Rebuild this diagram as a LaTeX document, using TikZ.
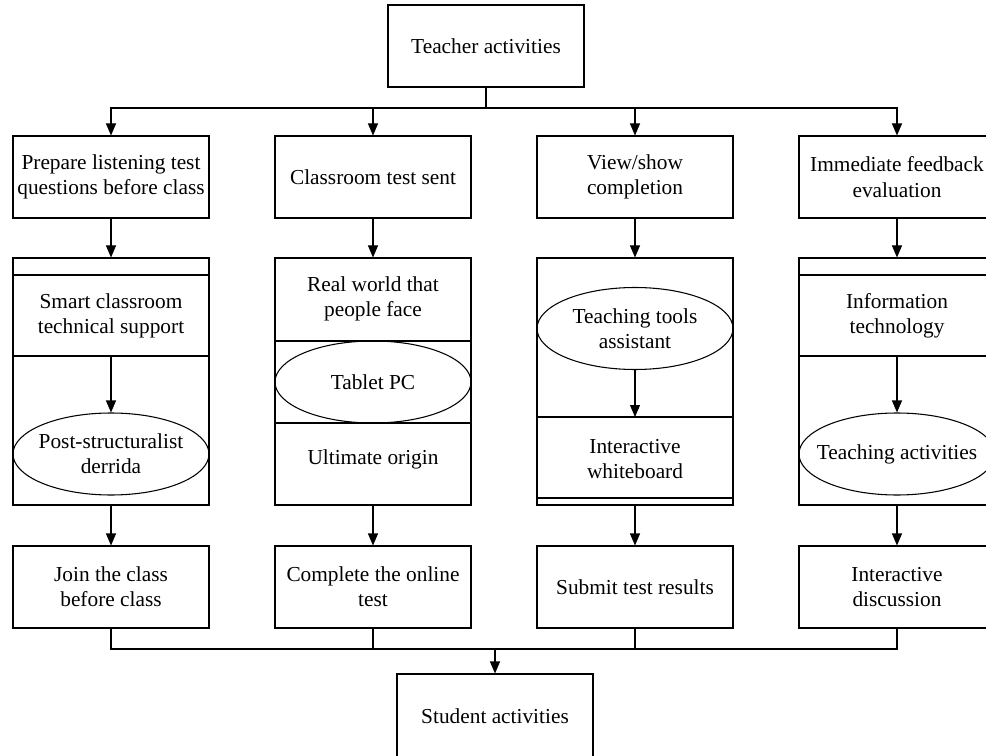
\documentclass[tikz,border=0pt]{standalone}
\usepackage{fontspec}
\setmainfont{Liberation Serif}
\usetikzlibrary{arrows.meta,shapes.geometric}
\tikzset{
  box/.style={draw, rectangle, minimum width=147pt, minimum height=61.5pt, inner sep=0pt, align=center, font=\fontsize{16}{19}\selectfont},
  tall/.style={draw, rectangle, minimum width=147pt, minimum height=185.25pt, inner sep=0pt},
  oval/.style={draw, ellipse, minimum width=147pt, minimum height=61.5pt, inner sep=0pt},
  txt/.style={inner sep=0pt, align=center, font=\fontsize{16}{19}\selectfont},
  arr/.style={-{Triangle[length=9pt,width=7.5pt]}}
}
\begin{document}
\begin{tikzpicture}[x=0.75pt,y=-0.75pt,line width=0.8pt]
\useasboundingbox (0,0) rectangle (986,756);
\node[box] (teach) at (486,46) {Teacher activities};
\node[box] (q1) at (111,177) {Prepare listening test\\questions before class};
\node[box] (q2) at (373,177) {Classroom test sent};
\node[box] (q3) at (635,177) {View/show\\completion};
\node[box] (q4) at (897,177) {Immediate feedback\\evaluation};
\node[tall] (m1) at (111,381.5) {};
\node[tall] (m2) at (373,381.5) {};
\node[tall] (m3) at (635,381.5) {};
\node[tall] (m4) at (897,381.5) {};
\node[box] (r1) at (111,587) {Join the class\\before class};
\node[box] (r2) at (373,587) {Complete the online\\test};
\node[box] (r3) at (635,587) {Submit test results};
\node[box] (r4) at (897,587) {Interactive\\discussion};
\node[box, minimum height=63pt] (stud) at (495,716) {Student activities};
\coordinate (tsplit) at (486,108);
\coordinate (bsplit) at (495,649);
\draw[](teach) -- (tsplit);
\draw[arr](tsplit) -| (q1);
\draw[arr](tsplit) -| (q2);
\draw[arr](tsplit) -| (q3);
\draw[arr](tsplit) -| (q4);
\draw[arr](q1) -- (m1);
\draw[arr](q2) -- (m2);
\draw[arr](q3) -- (m3);
\draw[arr](q4) -- (m4);
\draw[arr](m1) -- (r1);
\draw[arr](m2) -- (r2);
\draw[arr](m3) -- (r3);
\draw[arr](m4) -- (r4);
\draw[](r1) |- (bsplit);
\draw[](r2) |- (bsplit);
\draw[](r3) |- (bsplit);
\draw[](r4) |- (bsplit);
\draw[arr](bsplit) -- (stud);
\draw[](m1.west |- 0,275) -- (m1.east |- 0,275);
\draw[](m1.west |- 0,356) -- (m1.east |- 0,356);
\node[txt] (s1) at (111,316) {Smart classroom\\technical support};
\node[oval] (e1) at (111,454) {};
\node[txt] at (e1) {Post-structuralist\\derrida};
\coordinate (d1) at (111,356);
\draw[arr](d1) -- (e1);
\draw[](m2.west |- 0,341) -- (m2.east |- 0,341);
\draw[](m2.west |- 0,423) -- (m2.east |- 0,423);
\node[txt] (s2) at (373,299) {Real world that\\people face};
\node[oval] (e2) at (373,382) {};
\node[txt] at (e2) {Tablet PC};
\node[txt] (u2) at (373,459) {Ultimate origin};
\node[oval] (e3) at (635,328.5) {};
\node[txt] at (e3) {Teaching tools\\assistant};
\coordinate (d3) at (635,417);
\draw[arr](e3) -- (d3);
\draw[](m3.west |- 0,417) -- (m3.east |- 0,417);
\draw[](m3.west |- 0,498) -- (m3.east |- 0,498);
\node[txt] (s3) at (635,459) {Interactive\\whiteboard};
\draw[](m4.west |- 0,275) -- (m4.east |- 0,275);
\draw[](m4.west |- 0,356) -- (m4.east |- 0,356);
\node[txt] (s4) at (897,316) {Information\\technology};
\node[oval] (e4) at (897,454) {};
\node[txt] at (e4) {Teaching activities};
\coordinate (d4) at (897,356);
\draw[arr](d4) -- (e4);
\end{tikzpicture}
\end{document}
